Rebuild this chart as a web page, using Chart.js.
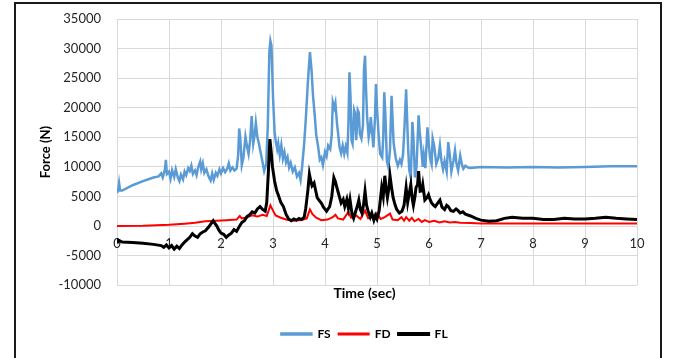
<!DOCTYPE html>
<html>
<head>
<meta charset="utf-8">
<script src="https://cdn.jsdelivr.net/npm/chart.js@4.4.1/dist/chart.umd.min.js"></script>
<style>
    body { margin: 0; background: #fff; }
    #frame { position: absolute; left: 14px; top: 2px; width: 644px; height: 400px; border: 2px solid #1a1a1a; }
    #forceChart { position: absolute; left: 0; top: 0; }
</style>
</head>
<body>
<div id="frame"></div>
<canvas id="forceChart" width="673" height="358"></canvas>
<script>
// time (sec) / force (N)
const fsTime = [0, 0.02, 0.04, 0.06, 0.1, 0.3, 0.5, 0.7, 0.8, 0.85, 0.88, 0.92, 0.94, 0.96, 1.0, 1.03, 1.06, 1.1, 1.13, 1.17,
    1.2, 1.23, 1.27, 1.3, 1.33, 1.37, 1.4, 1.43, 1.46, 1.5, 1.53, 1.56, 1.6, 1.62, 1.65, 1.68, 1.72, 1.76, 1.8, 1.83,
    1.86, 1.9, 1.93, 1.97, 2.0, 2.04, 2.08, 2.12, 2.15, 2.18, 2.22, 2.26, 2.3, 2.33, 2.35, 2.37, 2.4, 2.43, 2.47, 2.5,
    2.53, 2.56, 2.59, 2.62, 2.65, 2.67, 2.7, 2.73, 2.76, 2.79, 2.83, 2.87, 2.9, 2.93, 2.95, 2.97, 3.0, 3.03, 3.05, 3.08,
    3.1, 3.13, 3.16, 3.19, 3.22, 3.25, 3.28, 3.31, 3.34, 3.38, 3.42, 3.46, 3.5, 3.53, 3.56, 3.6, 3.63, 3.67, 3.71, 3.74,
    3.77, 3.8, 3.83, 3.87, 3.9, 3.93, 3.96, 4.0, 4.03, 4.06, 4.1, 4.13, 4.15, 4.18, 4.2, 4.23, 4.26, 4.28, 4.31, 4.34,
    4.37, 4.4, 4.43, 4.45, 4.47, 4.49, 4.51, 4.53, 4.56, 4.58, 4.6, 4.63, 4.65, 4.67, 4.7, 4.73, 4.75, 4.77, 4.79, 4.81,
    4.84, 4.86, 4.88, 4.9, 4.93, 4.96, 4.98, 5.0, 5.03, 5.06, 5.1, 5.12, 5.14, 5.16, 5.19, 5.22, 5.25, 5.28, 5.3, 5.32,
    5.36, 5.4, 5.44, 5.47, 5.5, 5.53, 5.56, 5.58, 5.6, 5.62, 5.65, 5.68, 5.7, 5.73, 5.76, 5.8, 5.82, 5.85, 5.88, 5.9,
    5.93, 5.97, 6.0, 6.02, 6.05, 6.07, 6.1, 6.14, 6.18, 6.21, 6.24, 6.27, 6.3, 6.34, 6.37, 6.4, 6.43, 6.47, 6.5, 6.53,
    6.56, 6.6, 6.63, 6.66, 6.7, 6.75, 6.8, 7.0, 7.5, 8.0, 8.5, 9.0, 9.5, 10.0];
const fsForce = [5600, 6000, 7300, 6000, 6000, 6900, 7600, 8200, 8400, 8900, 8200, 9500, 11200, 8800, 9200, 8000, 9400, 8300, 9600, 8200,
    7600, 8700, 7900, 9200, 8600, 9800, 9300, 10200, 8800, 9400, 8600, 9900, 10900, 9600, 10600, 9000, 9600, 8400, 7700, 8900,
    7800, 9000, 8500, 9600, 8900, 9800, 9100, 9700, 10600, 9400, 9900, 9400, 9700, 12000, 16500, 15000, 10300, 11500, 15100, 13500,
    12200, 14500, 18600, 13900, 15500, 17400, 15000, 13900, 12500, 11200, 9300, 10500, 17000, 29500, 31300, 30500, 21900, 16000, 14500, 13000,
    14000, 12000, 13700, 11400, 12500, 10800, 11600, 9900, 10700, 9200, 9900, 8400, 9000, 7800, 10000, 14000, 18000, 24200, 29400, 26500,
    22000, 19000, 15500, 13300, 11200, 11600, 10300, 12500, 11800, 13600, 13000, 15500, 21000, 20000, 20800, 17400, 15000, 13300, 12300, 13600,
    12200, 13500, 12400, 17000, 26000, 22000, 14500, 13900, 19600, 19000, 14500, 19600, 19200, 15600, 14800, 17000, 26500, 28800, 23000, 18500,
    15000, 16000, 18400, 16500, 13300, 18000, 24000, 20000, 15600, 12200, 11600, 15000, 22600, 19000, 11000, 9900, 13000, 22000, 18000, 14000,
    11500, 10200, 11200, 10500, 12000, 17000, 23100, 18000, 12900, 9500, 8200, 17600, 15000, 8200, 10000, 18700, 16000, 13300, 10000, 12000,
    9800, 16700, 13500, 11600, 10500, 14800, 13500, 10500, 11500, 13600, 11000, 9600, 11000, 9200, 14200, 12000, 9200, 11000, 12800, 10500,
    9400, 11900, 10500, 9700, 10200, 9900, 9800, 10000, 9900, 10000, 9900, 10000, 10100, 10100];

const fdTime = [0, 0.5, 1.0, 1.3, 1.5, 1.7, 1.9, 2.1, 2.3, 2.36, 2.4, 2.5, 2.6, 2.7, 2.8, 2.88, 2.95, 3.0, 3.05, 3.15,
    3.25, 3.4, 3.55, 3.65, 3.71, 3.76, 3.83, 3.93, 4.05, 4.15, 4.2, 4.25, 4.35, 4.45, 4.5, 4.6, 4.68, 4.77, 4.83, 4.93,
    5.0, 5.07, 5.15, 5.25, 5.3, 5.4, 5.47, 5.52, 5.56, 5.62, 5.67, 5.72, 5.8, 5.86, 5.92, 6.0, 6.1, 6.2, 6.3, 6.4,
    6.5, 6.6, 6.8, 7.0, 8.0, 9.0, 10.0];
const fdForce = [0, 50, 200, 400, 550, 800, 900, 1000, 1100, 1700, 1300, 1500, 1800, 1600, 1900, 1700, 3500, 2600, 1800, 1400,
    1100, 900, 1000, 1300, 2800, 2000, 1400, 1000, 1100, 1500, 1900, 1300, 1100, 2400, 1400, 1800, 1200, 2600, 1300, 1500,
    2200, 1200, 1500, 2100, 1100, 1000, 1500, 900, 1500, 900, 1400, 800, 1200, 700, 1000, 700, 900, 600, 800, 600,
    700, 550, 500, 450, 450, 450, 450];

const flTime = [0, 0.01, 0.1, 0.3, 0.5, 0.7, 0.85, 0.9, 0.95, 1.0, 1.05, 1.1, 1.15, 1.2, 1.25, 1.3, 1.35, 1.4, 1.45, 1.5,
    1.55, 1.6, 1.65, 1.7, 1.75, 1.8, 1.85, 1.88, 1.92, 1.96, 2.0, 2.05, 2.1, 2.15, 2.2, 2.25, 2.3, 2.35, 2.4, 2.45,
    2.5, 2.55, 2.6, 2.65, 2.7, 2.75, 2.8, 2.85, 2.88, 2.91, 2.94, 2.96, 2.99, 3.03, 3.07, 3.1, 3.15, 3.2, 3.25, 3.3,
    3.35, 3.4, 3.45, 3.5, 3.55, 3.6, 3.63, 3.67, 3.7, 3.73, 3.75, 3.79, 3.82, 3.85, 3.9, 3.93, 3.97, 4.03, 4.09, 4.13,
    4.17, 4.2, 4.22, 4.26, 4.31, 4.35, 4.38, 4.42, 4.45, 4.48, 4.52, 4.55, 4.59, 4.62, 4.65, 4.68, 4.71, 4.74, 4.77, 4.8,
    4.83, 4.87, 4.9, 4.94, 4.97, 5.0, 5.04, 5.09, 5.12, 5.15, 5.18, 5.2, 5.23, 5.25, 5.28, 5.31, 5.35, 5.38, 5.43, 5.48,
    5.52, 5.56, 5.59, 5.62, 5.65, 5.68, 5.7, 5.73, 5.75, 5.78, 5.8, 5.83, 5.86, 5.88, 5.92, 5.96, 5.99, 6.02, 6.05, 6.09,
    6.12, 6.16, 6.21, 6.25, 6.3, 6.34, 6.37, 6.42, 6.47, 6.52, 6.56, 6.6, 6.65, 6.7, 6.8, 6.9, 7.0, 7.15, 7.3, 7.45,
    7.6, 7.8, 8.0, 8.2, 8.4, 8.6, 8.8, 9.0, 9.2, 9.4, 9.6, 9.8, 10.0];
const flForce = [-2700, -2300, -2700, -2800, -2900, -3100, -3300, -3600, -3200, -3700, -3300, -3900, -3400, -3800, -3200, -2700, -2300, -1900, -1300, -1700,
    -1900, -1300, -1000, -800, -300, 300, 900, 500, 0, -700, -1200, -1400, -1900, -1500, -1200, -600, -900, -100, 600, 900,
    1600, 1900, 2400, 2200, 2900, 3300, 2800, 2500, 4000, 9000, 14700, 13000, 10000, 7600, 6000, 5300, 4000, 3300, 2000, 1200,
    900, 1200, 1000, 1300, 1100, 1500, 3000, 6000, 8800, 7500, 6800, 7300, 6000, 4800, 4200, 3900, 3200, 2500, 3300, 5000,
    8200, 7500, 6800, 5500, 3900, 4500, 3300, 4500, 3000, 4500, 2000, 1300, 2500, 3300, 4400, 2800, 2200, 3500, 5900, 3500,
    2500, 1500, 2200, 1000, 1800, 1200, 2500, 6500, 5000, 8500, 6000, 4800, 6500, 8500, 6500, 4800, 3500, 2800, 2200, 2500,
    3500, 6500, 4000, 5500, 7000, 4500, 3500, 5000, 6500, 7000, 9300, 5900, 6000, 7000, 4400, 4800, 5300, 4500, 3900, 3500,
    3300, 3800, 4400, 3200, 2800, 3500, 3300, 2600, 2500, 2900, 2600, 2200, 2400, 2000, 1700, 1300, 1000, 800, 900, 1300,
    1500, 1300, 1300, 1100, 1100, 1300, 1200, 1200, 1300, 1500, 1300, 1200, 1100];

const seriesNames = ['FS', 'FD', 'FL'];
const seriesColors = ['#5b9bd5', '#ff0000', '#000000'];

function toPoints(times, values) {
    return times.map((t, i) => ({ x: t, y: values[i] }));
}

const fontName = 'Lato';

// FL first so it is painted on top, legend reversed back to FS, FD, FL
const datasets = [
    { label: seriesNames[2], data: toPoints(flTime, flForce), borderColor: seriesColors[2], backgroundColor: seriesColors[2], borderWidth: 3 },
    { label: seriesNames[1], data: toPoints(fdTime, fdForce), borderColor: seriesColors[1], backgroundColor: seriesColors[1], borderWidth: 2 },
    { label: seriesNames[0], data: toPoints(fsTime, fsForce), borderColor: seriesColors[0], backgroundColor: seriesColors[0], borderWidth: 2.5 }
];

// bottom title and legend sit a bit right of the canvas centre
const shiftBottomBoxes = {
    id: 'shiftBottomBoxes',
    afterLayout(chart) {
        [chart.legend, chart.titleBlock].forEach(b => {
            if (b) { b.left += 29; b.right += 29; }
        });
    }
};

const ctx = document.getElementById('forceChart').getContext('2d');
const chart = new Chart(ctx, {
    type: 'line',
    data: { datasets: datasets },
    plugins: [shiftBottomBoxes],
    options: {
        responsive: false,
        animation: false,
        layout: { padding: { left: 34, right: 36, top: 19, bottom: 8 } },
        elements: { point: { radius: 0 }, line: { tension: 0 } },
        scales: {
            x: {
                type: 'linear',
                position: { y: 0 },
                min: 0,
                max: 10,
                grid: { color: '#d9d9d9', drawTicks: false },
                border: { display: false },
                ticks: { stepSize: 1, padding: 10, color: '#262626', font: { family: fontName, size: 13 } }
            },
            y: {
                min: -10000,
                max: 35000,
                // invisible tick marks give the gap between labels and plot
                grid: { color: '#d9d9d9', drawTicks: true, tickLength: 16, tickColor: 'rgba(0,0,0,0)' },
                border: { display: false },
                ticks: {
                    stepSize: 5000, padding: 0, color: '#262626', font: { family: fontName, size: 13 },
                    callback: v => String(v)
                },
                title: { display: true, text: 'Force (N)', color: '#000', font: { family: fontName, size: 13, weight: 'bold' } },
                afterFit: s => { s.width = 83; }
            }
        },
        plugins: {
            title: {
                display: true,
                position: 'bottom',
                weight: 500,
                text: 'Time (sec)',
                color: '#000',
                padding: { top: 0, bottom: 18 },
                font: { family: fontName, size: 14, weight: 'bold' }
            },
            legend: {
                position: 'bottom',
                reverse: true,
                labels: {
                    boxWidth: 30,
                    boxHeight: 1,
                    padding: 8,
                    color: '#000',
                    font: { family: fontName, size: 12, weight: 'bold' }
                }
            },
            tooltip: { enabled: false }
        }
    }
});
</script>
</body>
</html>
